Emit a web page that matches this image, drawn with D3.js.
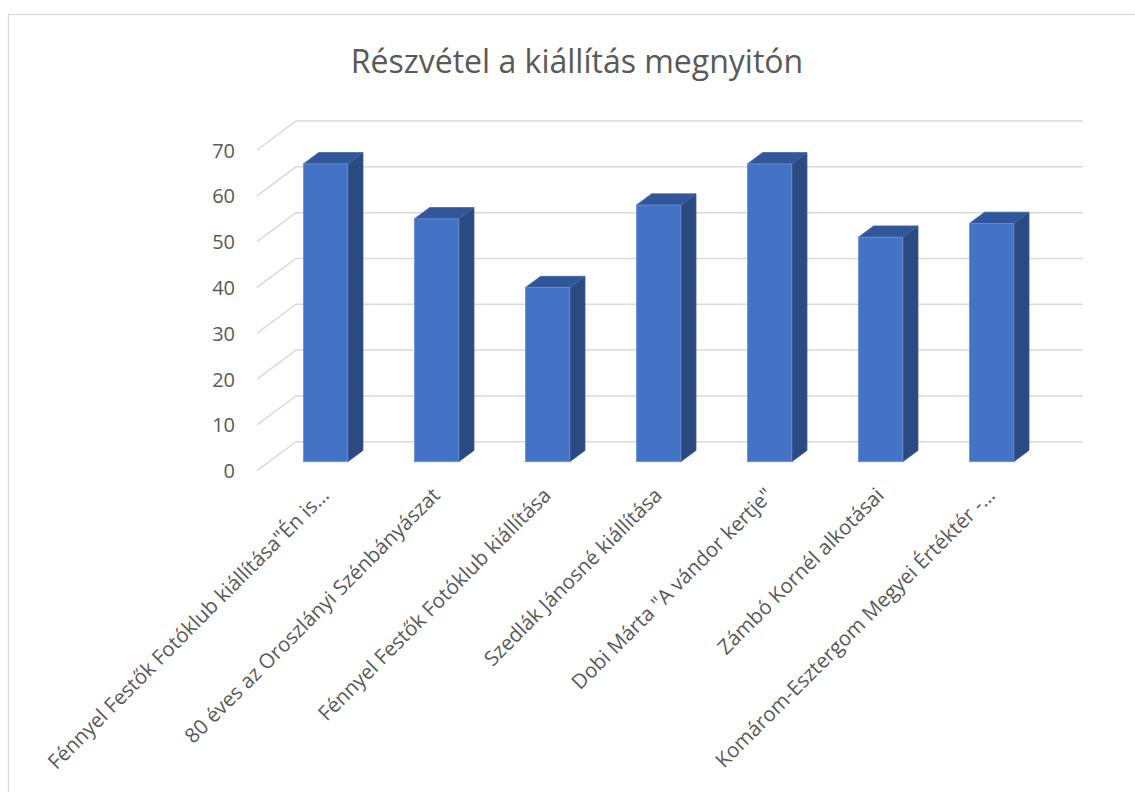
<!DOCTYPE html>
<html>
<head>
<meta charset="utf-8">
<script src="https://cdn.jsdelivr.net/npm/d3@7"></script>
<style>
  html, body { margin: 0; padding: 0; background: #fff; }
  svg { display: block; }
  text { font-family: "Open Sans", "Noto Sans", sans-serif; fill: #595959; }
</style>
</head>
<body>
<svg id="chart" width="1135" height="792"></svg>
<script>
const categories = [
  'Fénnyel Festők Fotóklub kiállítása"Én is…',
  '80 éves az Oroszlányi Szénbányászat',
  'Fénnyel Festők Fotóklub kiállítása',
  'Szedlák Jánosné kiállítása',
  'Dobi Márta "A vándor kertje"',
  'Zámbó Kornél alkotásai',
  'Komárom-Esztergom Megyei Értéktér -…'
];
const values = [65, 53, 38, 56, 65, 49, 52];
const yTicks = [0, 10, 20, 30, 40, 50, 60, 70];
const title = "Részvétel a kiállítás megnyitón";

const svg = d3.select("#chart");

// chart border
svg.append("rect")
  .attr("x", 8.5).attr("y", 14.5)
  .attr("width", 1300).attr("height", 1000)
  .attr("fill", "#fff").attr("stroke", "#d9d9d9").attr("stroke-width", 1.2);

// 3D geometry
const depthX = 39, depthY = -29;          // full depth of the floor
const barT0 = 0.31, barT1 = 0.70;          // bar position in depth
const wallRight = 1083;

const y = d3.scaleLinear().domain([0, 70]).range([470.7, 150]);   // front plane
const x = d3.scaleBand().domain(categories).range([258, 1035])
  .paddingInner(0.6).paddingOuter(0.3);

const px = (xx, t) => xx + depthX * t;
const py = (yy, t) => yy + depthY * t;

// gridlines
const grid = svg.append("g").attr("stroke", "#d9d9d9").attr("stroke-width", 1.5).attr("fill", "none");
yTicks.forEach(v => {
  const x0 = 257, y0 = y(v);
  const x1 = px(x0, 1), y1 = py(y0, 1);
  grid.append("path").attr("d", `M${x0},${y0}L${x1},${y1}L${wallRight},${y1}`);
});

// y labels
svg.append("g").selectAll("text").data(yTicks).join("text")
  .attr("x", 235).attr("y", d => y(d))
  .attr("text-anchor", "end").attr("dominant-baseline", "central")
  .style("font-size", "20px")
  .text(d => d);

// bars
const bars = svg.append("g").selectAll("g").data(categories).join("g");
bars.each(function(c, i) {
  const g = d3.select(this);
  const v = values[i];
  const xl = px(x(c), barT0), xr = xl + x.bandwidth();
  const yb = py(y(0), barT0), yt = py(y(v), barT0);
  const ddx = depthX * (barT1 - barT0), ddy = depthY * (barT1 - barT0);
  // side
  g.append("path")
    .attr("d", `M${xr},${yt}L${xr + ddx},${yt + ddy}L${xr + ddx},${yb + ddy}L${xr},${yb}Z`)
    .attr("fill", "#2b4a82").attr("stroke", "#3a5da0").attr("stroke-width", 0.8);
  // top
  g.append("path")
    .attr("d", `M${xl},${yt}L${xl + ddx},${yt + ddy}L${xr + ddx},${yt + ddy}L${xr},${yt}Z`)
    .attr("fill", "#31569a").attr("stroke", "#3e63a8").attr("stroke-width", 0.8);
  // front
  g.append("rect")
    .attr("x", xl).attr("y", yt).attr("width", x.bandwidth()).attr("height", yb - yt)
    .attr("fill", "#4472c4").attr("stroke", "#6a90d4").attr("stroke-width", 0.8);
});

// category labels
svg.append("g").selectAll("text").data(categories).join("text")
  .attr("transform", c => {
    const cx = px(x(c) + x.bandwidth() / 2, barT0) - 1;
    return `translate(${cx},${491}) rotate(-45)`;
  })
  .attr("text-anchor", "end").attr("dominant-baseline", "central")
  .style("font-size", "20.5px")
  .text(c => c);

// title
svg.append("text")
  .attr("x", 577).attr("y", 60)
  .attr("text-anchor", "middle").attr("dominant-baseline", "central")
  .style("font-size", "32px")
  .text(title);
</script>
</body>
</html>
